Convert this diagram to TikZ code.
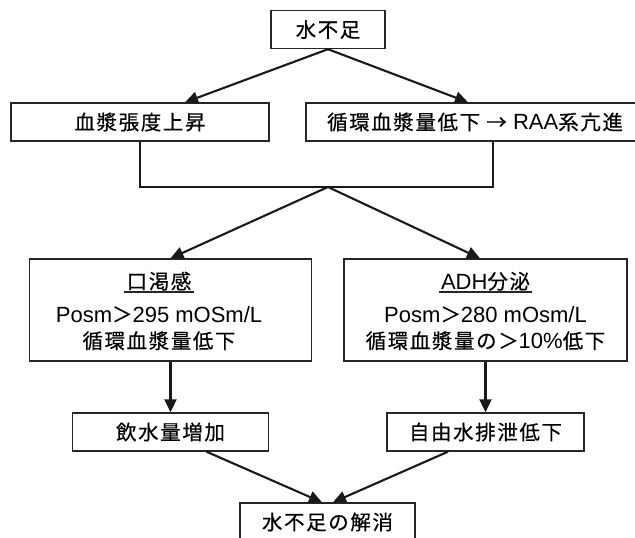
\documentclass[tikz,border=0pt]{standalone}
\usepackage{fontspec}
\setmainfont{Liberation Sans}
\newfontfamily\J[Scale=0.93,LetterSpace=8,FakeBold=0.4]{Noto Sans CJK JP}
\usetikzlibrary{arrows.meta}
\tikzset{
  box/.style={draw=black!85, line width=1.4pt, inner sep=0pt, minimum height=38pt,
              font=\fontsize{22pt}{26pt}\selectfont},
  txt/.style={inner sep=0pt, font=\fontsize{22pt}{26pt}\selectfont, anchor=base},
  conn/.style={line width=2.1pt, draw=black!90},
  arr/.style={conn, -{Triangle[length=13pt,width=12pt]}},
  uline/.style={line width=1.3pt, draw=black!85},
}
\begin{document}
\begin{tikzpicture}[x=1pt,y=-1pt]
\useasboundingbox (0,0) rectangle (635,538);
% boxes
\node[box, minimum width=114pt] (top) at (328,29.5) {\J 水不足};
\node[box, minimum width=258pt] (A) at (140,122) {\J 血漿張度上昇};
\node[box, minimum width=338pt] (B) at (475,122) {{\J 循環血漿量低下 → }RAA{\J 系亢進}};
\node[box, minimum width=282pt, minimum height=102pt] (C) at (170.5,310) {};
\node[box, minimum width=283pt, minimum height=102pt] (D) at (485.5,310) {};
\node[box, minimum width=196pt] (E) at (170.5,432) {\J 飲水量増加};
\node[box, minimum width=197pt] (F) at (485.5,432) {\J 自由水排泄低下};
\node[box, minimum width=175pt] (G) at (327.5,522) {\J 水不足の解消};
% texts inside C and D
\node[txt] (C1) at (159,289) {\J 口渇感};
\node[txt] (C2) at (159,322) {Posm{\J ＞}295 mOSm/L};
\node[txt] (C3) at (159,348.5) {\J 循環血漿量低下};
\node[txt] (D1) at (485.5,289) {ADH{\J 分泌}};
\node[txt] (D2) at (485.5,322) {Posm{\J ＞}280 mOsm/L};
\node[txt] (D3) at (485.5,348.5) {{\J 循環血漿量の＞}10\%{\J 低下}};
\draw[uline] ([xshift=-2pt,yshift=-3pt]C1.base west) -- ([xshift=2pt,yshift=-3pt]C1.base east);
\draw[uline] ([xshift=-2pt,yshift=-3pt]D1.base west) -- ([xshift=2pt,yshift=-3pt]D1.base east);
% connectors
\coordinate (J) at (328,187);
\draw[arr] (top.south) -- ([xshift=45pt]A.north);
\draw[arr] (top.south) -- ([xshift=-7pt]B.north);
\draw[conn] (A.south) |- (J) -| ([xshift=18pt]B.south);
\draw[arr] (J) -- (C.north);
\draw[arr] (J) -- ([xshift=-5.5pt]D.north);
\draw[arr] (C.south) -- (E.north);
\draw[arr] (D.south) -- (F.north);
\draw[arr] ([xshift=36pt]E.south) -- ([xshift=-5.5pt]G.north);
\draw[arr] ([xshift=-37.5pt]F.south) -- ([xshift=5.5pt]G.north);
\end{tikzpicture}
\end{document}
